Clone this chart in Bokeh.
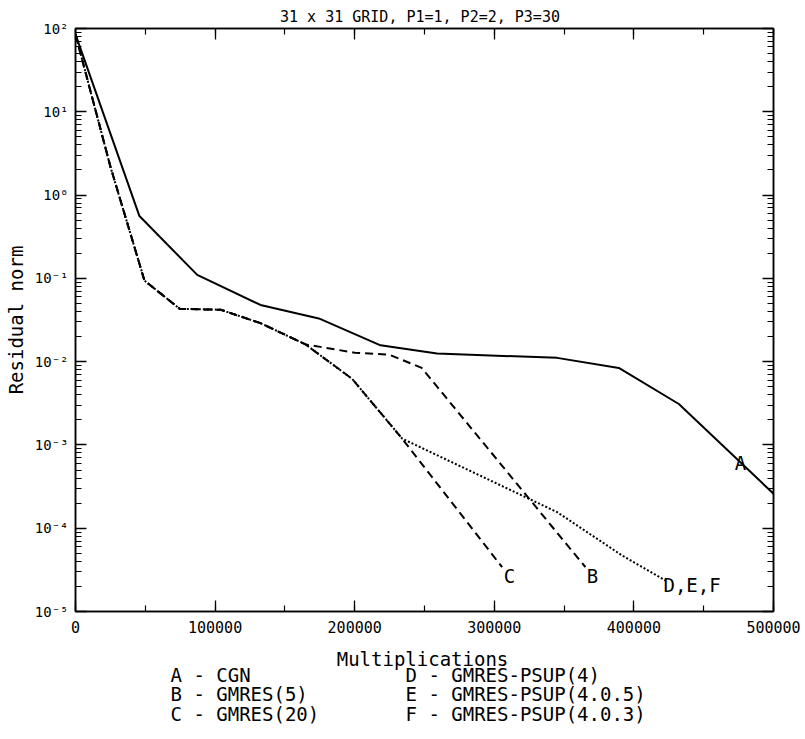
from bokeh.plotting import figure
from bokeh.layouts import column
from bokeh.models import (Range1d, LinearAxis, LogAxis, SingleIntervalTicker, FixedTicker,
                          NumeralTickFormatter, CustomJSTickFormatter)
from bokeh.core.properties import value
from bokeh.embed import file_html
from bokeh.resources import INLINE

# ---------------- data ----------------
title_text = "31 x 31 GRID,  P1=1, P2=2, P3=30"
x_label = "Multiplications"
y_label = "Residual norm"

# A - CGN (solid)
x_A = [0, 45800, 87200, 132500, 174300, 218500, 259000, 345000, 389200, 432200, 500000]
y_A = [85, 0.56, 0.11, 0.048, 0.033, 0.0157, 0.0125, 0.0111, 0.0084, 0.0031, 0.00026]

# B - GMRES(5) (dashed)
x_B = [0, 25000, 49400, 74700, 104000, 132500, 164800, 200000, 225000, 248000, 365300]
y_B = [85, 2.2, 0.094, 0.043, 0.042, 0.029, 0.0161, 0.0128, 0.0121, 0.0084, 3.4e-5]

# C - GMRES(20) (dashed)
x_C = [0, 25000, 49400, 74700, 104000, 132500, 164800, 198200, 234000, 305600]
y_C = [85, 2.2, 0.094, 0.043, 0.042, 0.029, 0.0161, 0.0062, 0.00119, 3.4e-5]

# D, E, F - GMRES-PSUP variants (dotted, coincide)
x_DEF = [0, 25000, 49400, 74700, 104000, 132500, 164800, 198200, 234000, 345000, 391600, 422600]
y_DEF = [85, 2.2, 0.094, 0.043, 0.042, 0.029, 0.0161, 0.0062, 0.00119, 1.56e-4, 4.7e-5, 2.36e-5]

# curve labels
lab_text = ["A", "B", "C"]
lab_x = [476400, 370300, 310900]
lab_y = [6.0e-4, 2.7e-5, 2.7e-5]
lab_def_text = ["D,E,F"]
lab_def_x = [421200]
lab_def_y = [2.06e-5]

legend_keys = ["A", "B", "C", "D", "E", "F"]
legend_names = ["CGN", "GMRES(5)", "GMRES(20)", "GMRES-PSUP(4)",
                "GMRES-PSUP(4.0.5)", "GMRES-PSUP(4.0.3)"]

x_ticks_interval = 100000
y_decades = list(range(-5, 3))

FONT = "DejaVu Sans Mono"
LEFT, FRAME_W, RIGHT = 75, 698, 32

# ---------------- main figure ----------------
p = figure(frame_width=FRAME_W, frame_height=583, y_axis_type="log",
           x_range=Range1d(0, 500000), y_range=Range1d(1e-5, 1e2),
           output_backend="svg", toolbar_location=None,
           min_border_left=LEFT, min_border_right=RIGHT, min_border_top=28,
           min_border_bottom=30, title=title_text)

p.title.text_font = FONT
p.title.text_font_size = "15px"
p.title.text_font_style = "normal"
p.title.text_color = "black"
p.title.align = "center"
p.title.standoff = 6
p.title.offset = -6

p.xgrid.visible = False
p.ygrid.visible = False
p.outline_line_color = "black"
p.outline_line_width = 1.5
p.background_fill_color = "white"
p.border_fill_color = "white"

xt = SingleIntervalTicker(interval=x_ticks_interval, num_minor_ticks=2)
yt = FixedTicker(ticks=[10.0 ** e for e in y_decades],
                 minor_ticks=[k * 10.0 ** e for e in y_decades[:-1] for k in range(2, 10)])

sup_js = """
const e = Math.round(Math.log10(tick));
const sup = {'-':'\u207b','0':'\u2070','1':'\u00b9','2':'\u00b2','3':'\u00b3','4':'\u2074',
             '5':'\u2075','6':'\u2076','7':'\u2077','8':'\u2078','9':'\u2079'};
return '10' + String(e).split('').map(c => sup[c]).join('');
"""


def style_axis(ax, major_in, minor_in):
    ax.axis_line_color = "black"
    ax.axis_line_width = 1.5
    ax.major_tick_line_color = "black"
    ax.minor_tick_line_color = "black"
    ax.major_tick_line_width = 1.3
    ax.minor_tick_line_width = 1.2
    ax.major_tick_in = major_in
    ax.major_tick_out = 0
    ax.minor_tick_in = minor_in
    ax.minor_tick_out = 0


xa = p.xaxis[0]
xa.ticker = xt
xa.formatter = NumeralTickFormatter(format="0")
style_axis(xa, 11, 6)
xa.major_label_text_font = FONT
xa.major_label_text_font_size = "15px"
xa.major_label_text_color = "black"
xa.major_label_standoff = 9

ya = p.yaxis[0]
ya.ticker = yt
ya.formatter = CustomJSTickFormatter(code=sup_js)
style_axis(ya, 11, 6)
ya.major_label_text_font = FONT
ya.major_label_text_font_size = "14px"
ya.major_label_text_color = "black"
ya.major_label_standoff = 7
ya.axis_label = y_label
ya.axis_label_text_font = FONT
ya.axis_label_text_font_size = "19px"
ya.axis_label_text_font_style = "normal"
ya.axis_label_text_color = "black"
ya.axis_label_standoff = 5

# mirror axes carrying only ticks (labels not drawn)
top = LinearAxis(ticker=xt, major_label_text_font_size="1px", major_label_text_color=None,
                 major_label_standoff=0)
style_axis(top, 11, 6)
p.add_layout(top, "above")

right = LogAxis(ticker=yt, major_label_text_font_size="1px", major_label_text_color=None,
                major_label_standoff=0)
style_axis(right, 11, 6)
p.add_layout(right, "right")

# ---------------- curves ----------------
p.line(x_A, y_A, line_color="black", line_width=2)
p.line(x_B, y_B, line_color="black", line_width=2, line_dash="8 5")
p.line(x_C, y_C, line_color="black", line_width=2, line_dash="8 5")
p.line(x_DEF, y_DEF, line_color="black", line_width=2, line_dash="2 2")

p.text(x=lab_x, y=lab_y, text=lab_text, text_font=value(FONT), text_font_size="19px",
       text_align="center", text_baseline="middle", text_color="black")
p.text(x=lab_def_x, y=lab_def_y, text=lab_def_text, text_font=value(FONT),
       text_font_size="19px", text_align="left", text_baseline="middle", text_color="black")

# ---------------- caption strip: axis title + key ----------------
# the strip's frame is aligned with the main frame; its x range is in page pixels
CAP_H = 98
cap = figure(frame_width=FRAME_W, frame_height=CAP_H,
             x_range=Range1d(LEFT, LEFT + FRAME_W), y_range=Range1d(CAP_H, 0),
             output_backend="svg", toolbar_location=None,
             min_border_left=LEFT, min_border_right=RIGHT, min_border_top=0,
             min_border_bottom=0)
cap.axis.visible = False
cap.xgrid.visible = False
cap.ygrid.visible = False
cap.outline_line_color = None
cap.background_fill_color = "white"
cap.border_fill_color = "white"

cap.text(x=[422], y=[17], text=[x_label], text_font=value(FONT), text_font_size="19px",
         text_align="center", text_baseline="middle", text_color="black")

col_x = [170, 405]
row_y = [33, 52.5, 72.5]
kx, ky, kt = [], [], []
for i, (k, n) in enumerate(zip(legend_keys, legend_names)):
    col, row = divmod(i, 3)
    kx.append(col_x[col])
    ky.append(row_y[row])
    kt.append(f"{k} - {n}")
cap.text(x=kx, y=ky, text=kt, text_font=value(FONT), text_font_size="19px",
         text_align="left", text_baseline="middle", text_color="black")

open("out.html", "w").write(file_html(column(p, cap, spacing=0), INLINE))
